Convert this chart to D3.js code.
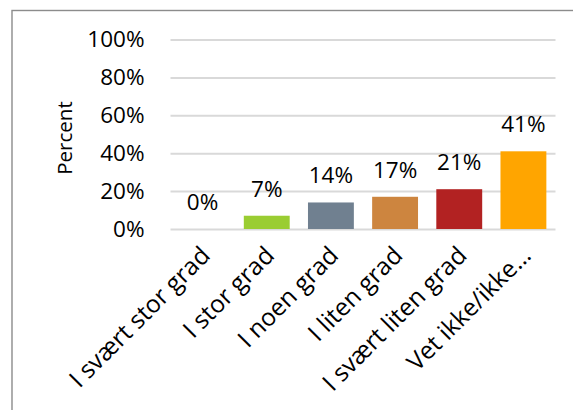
<!DOCTYPE html>
<html>
<head>
<meta charset="utf-8">
<script src="https://cdn.jsdelivr.net/npm/d3@7"></script>
<style>
  html, body { margin: 0; padding: 0; background: #fff; }
  svg { display: block; font-family: "Open Sans", "Noto Sans", sans-serif; }
</style>
</head>
<body>
<svg id="chart" width="573" height="410"></svg>
<script>
// Survey answers and the share of respondents for each
const categories = ["I svært stor grad", "I stor grad", "I noen grad", "I liten grad", "I svært liten grad", "Vet ikke/ikke…"];
const values = [0.00, 0.07, 0.14, 0.17, 0.21, 0.41];
const colors = ["#4682B4", "#9ACD32", "#708090", "#CD853F", "#B22222", "#FFA500"];
const yTicks = [0, 0.2, 0.4, 0.6, 0.8, 1.0];
const yTitle = "Percent";

const svg = d3.select("#chart");
const W = 573, H = 410;

svg.append("rect").attr("width", W).attr("height", H).attr("fill", "#fff");

// chart area frame (runs past the right and bottom edges)
svg.append("rect")
  .attr("x", 12).attr("y", 10.5)
  .attr("width", 700).attr("height", 600)
  .attr("fill", "none")
  .attr("stroke", "#8c8c8c")
  .attr("stroke-width", 1.4);

const plot = { left: 170.5, right: 555.5, top: 39.5, bottom: 229 };

const x = d3.scaleBand()
  .domain(categories)
  .range([plot.left, plot.right])
  .paddingInner(0.285)
  .paddingOuter(0.1425);

const y = d3.scaleLinear()
  .domain([0, 1])
  .range([plot.bottom, plot.top]);

// horizontal gridlines and percent tick labels
const yAxis = d3.axisLeft(y)
  .tickValues(yTicks)
  .tickFormat(d3.format(".0%"))
  .tickSize(-(plot.right - plot.left))
  .tickPadding(26);

const gy = svg.append("g")
  .attr("transform", `translate(${plot.left},0)`)
  .call(yAxis);
gy.select(".domain").remove();
gy.selectAll(".tick line")
  .attr("stroke", "#d9d9d9")
  .attr("stroke-width", 2);
gy.selectAll(".tick text")
  .attr("fill", "#000")
  .style("font-size", "22.5px")
  .style("font-family", "'Open Sans', sans-serif");

// axis title
svg.append("text")
  .attr("transform", `translate(72,138) rotate(-90)`)
  .attr("text-anchor", "middle")
  .attr("fill", "#000")
  .style("font-size", "20.5px")
  .text(yTitle);

// bars
svg.append("g").selectAll("rect")
  .data(values)
  .join("rect")
  .attr("x", (d, i) => x(categories[i]))
  .attr("width", x.bandwidth())
  .attr("y", d => y(d))
  .attr("height", d => y(0) - y(d))
  .attr("fill", (d, i) => colors[i]);

// value labels above bars
svg.append("g").selectAll("text")
  .data(values)
  .join("text")
  .attr("x", (d, i) => x(categories[i]) + x.bandwidth() / 2)
  .attr("y", d => y(d) - 19)
  .attr("text-anchor", "middle")
  .attr("fill", "#000")
  .style("font-size", "22.5px")
  .text(d => d3.format(".0%")(d));

// rotated category labels
svg.append("g").selectAll("text")
  .data(categories)
  .join("text")
  .attr("transform", d => `translate(${x(d) + x.bandwidth() / 2 + 9},257) rotate(-45)`)
  .attr("text-anchor", "end")
  .attr("fill", "#000")
  .style("font-size", "24.5px")
  .text(d => d);
</script>
</body>
</html>
